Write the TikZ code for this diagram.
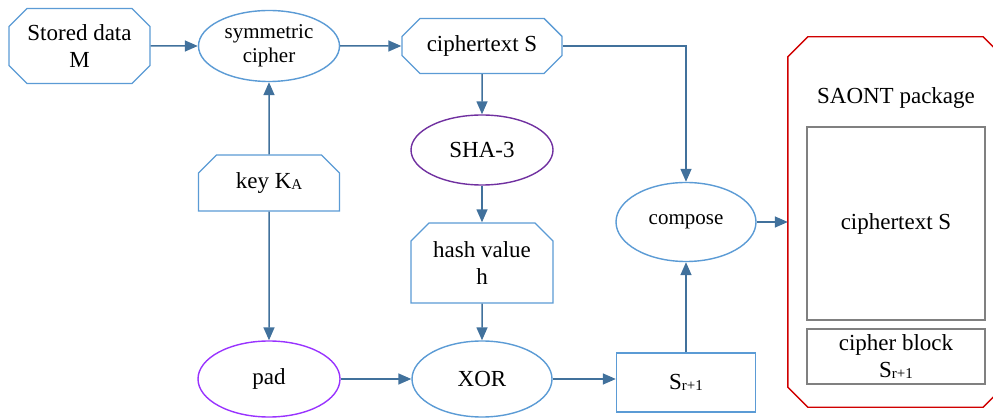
\documentclass[tikz,border=0pt]{standalone}
\usepackage{fontspec}
\setmainfont{Liberation Serif}
\usepackage{xcolor}
\usetikzlibrary{positioning,arrows.meta,shapes.geometric,shapes.misc,calc}
\definecolor{LineBlue}{HTML}{41719C}
\definecolor{EdgeBlue}{HTML}{5B9BD5}
\definecolor{HashPurple}{HTML}{7030A0}
\definecolor{PadViolet}{HTML}{9933FF}
\definecolor{PkgRed}{HTML}{D00000}
\definecolor{BoxGray}{HTML}{808080}
\newcommand{\lowtxt}[1]{\raisebox{-1.5pt}{\fontsize{15}{15}\selectfont #1}}

\begin{document}
\begin{tikzpicture}[x=1pt,y=-1pt,
    every node/.style={font=\fontsize{23}{27}\selectfont, align=center, inner sep=2pt},
    ar/.style={-{Triangle[length=13pt,width=11pt]},line width=1.5pt,LineBlue},
    oval/.style={ellipse, draw=EdgeBlue, line width=1.4pt, fill=white},
    octbox/.style={chamfered rectangle, chamfered rectangle xsep=9pt,
      chamfered rectangle ysep=9pt, draw=EdgeBlue, line width=1.4pt, fill=white},
    capbox/.style={octbox, chamfered rectangle corners={north west,north east}},
    plainbox/.style={rectangle, draw=EdgeBlue, line width=1.4pt, fill=white}]
  \useasboundingbox (0,0) rectangle (993,419);
  % top row
  \node[octbox, minimum width=141pt, minimum height=75pt] (data) at (79.5,46) {Stored data\\M};
  \node[oval, minimum width=141pt, minimum height=71pt, font=\fontsize{21}{24}\selectfont] (sym) at (269,46) {symmetric\\cipher};
  \node[octbox, minimum width=160pt, minimum height=55pt] (ctext) at (482,46) {ciphertext S};
  % middle
  \node[capbox, minimum width=141pt, minimum height=56pt] (key) at (269,183) {key K\lowtxt{A}};
  \node[oval, draw=HashPurple, minimum width=142pt, minimum height=70pt] (sha) at (482,150) {SHA-3};
  \node[capbox, minimum width=142pt, minimum height=80pt] (hash) at (482,263) {hash value\\h};
  \node[oval, minimum width=140pt, minimum height=79pt, font=\fontsize{21}{24}\selectfont] (comp) at (686,222) {compose};
  % bottom row
  \node[oval, draw=PadViolet, minimum width=142pt, minimum height=76pt] (pad) at (269,379) {pad};
  \node[oval, minimum width=140pt, minimum height=76pt] (xor) at (482,379) {XOR};
  \node[plainbox, minimum width=139pt, minimum height=59pt] (sr) at (686,382.5) {S\lowtxt{r+1}};
  % package
  \node[minimum width=215pt, minimum height=370pt] (pkg) at (895.5,222) {};
  \draw[PkgRed, line width=1.4pt]
    ($(pkg.north west)+(20,0)$) -- ($(pkg.north east)+(-20,0)$) -- ($(pkg.north east)+(0,20)$)
    -- ($(pkg.south east)+(0,-20)$) -- ($(pkg.south east)+(-20,0)$) -- ($(pkg.south west)+(20,0)$)
    -- ($(pkg.south west)+(0,-20)$) -- ($(pkg.north west)+(0,20)$) -- cycle;
  \node (pkgt) at (896,98) {SAONT package};
  \node[draw=BoxGray, line width=1.4pt, minimum width=178pt, minimum height=193pt] (pct) at (896,223.5) {ciphertext S};
  \node[draw=BoxGray, line width=1.4pt, minimum width=178pt, minimum height=55pt, inner sep=0pt] (pcb) at (896,356.5) {cipher block\\S\lowtxt{r+1}};
  % connectors
  \draw[ar] (data) -- (sym); \draw[ar] (sym) -- (ctext);
  \draw[ar] (key) -- (sym); \draw[ar] (key) -- (pad);
  \draw[ar] (ctext) -- (sha); \draw[ar] (sha) -- (hash); \draw[ar] (hash) -- (xor);
  \draw[ar] (pad) -- (xor); \draw[ar] (xor) -- (xor -| sr.west);
  \draw[ar] (sr) -- (comp); \draw[ar] (ctext.east) -| (comp.north);
  \draw[ar] (comp) -- (pkg.west);
\end{tikzpicture}
\end{document}
